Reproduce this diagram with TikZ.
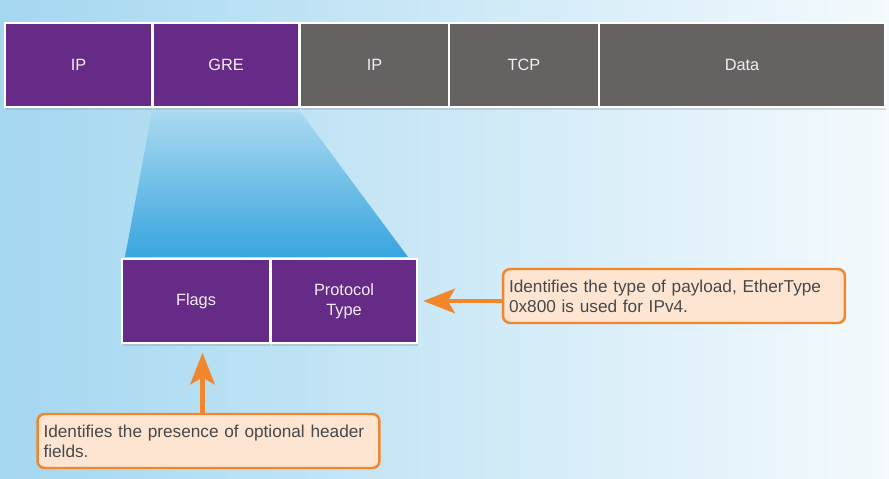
\documentclass[tikz,border=0pt]{standalone}
\usepackage{fontspec}
\setmainfont{Liberation Sans}
\usepackage{tikz}
\usetikzlibrary{arrows.meta,shadows}
\definecolor{grepurple}{RGB}{101,43,134}
\definecolor{hdrgray}{RGB}{102,98,98}
\definecolor{bgleft}{RGB}{164,215,240}
\definecolor{bgmid}{RGB}{212,236,248}
\definecolor{bgright}{RGB}{244,250,253}
\definecolor{funneltop}{RGB}{170,217,240}
\definecolor{funnelbot}{RGB}{56,165,222}
\definecolor{calloutfill}{RGB}{253,229,210}
\definecolor{calloutline}{RGB}{241,134,45}
\definecolor{calltext}{RGB}{72,72,72}

\tikzset{
  hdr/.style={rectangle, draw=white, line width=1.2pt, minimum height=1.68cm,
    text=white!92!grepurple, font=\fontsize{9.3}{11.4}\selectfont,
    drop shadow={opacity=0.25, shadow xshift=0.6pt, shadow yshift=-1.5pt}},
  callout/.style={rectangle, rounded corners=4pt, draw=calloutline, line width=1.4pt,
    fill=calloutfill, text=calltext, align=left, text width=6.6cm, inner xsep=0.12cm,
    minimum height=1.08cm, font=\fontsize{9.8}{11.4}\selectfont},
  callarrow/.style={draw=calloutline, line width=2.3pt,
    -{Stealth[length=18pt, width=14pt, inset=4pt]}}
}

\begin{document}
\begin{tikzpicture}[x=0.02cm, y=-0.02cm]
\useasboundingbox (0,0) rectangle (889,479);
\shade[left color=bgleft, middle color=bgmid, right color=bgright] (0,0) rectangle (889,479);

% header of the tunnelled packet
\foreach \name/\x/\w/\col/\lbl in {ip1/78.5/2.94/grepurple/IP, gre/226/2.92/grepurple/GRE,
    ip2/374.5/2.98/hdrgray/IP, tcp/524/3.0/hdrgray/TCP, data/742/5.72/hdrgray/Data}
    \node[hdr, fill=\col, minimum width=\w cm] (\name) at (\x,65) {\lbl};

% zoom into the GRE header
\shade[top color=funneltop, bottom color=funnelbot]
    ([yshift=-2pt]gre.south west) -- ([yshift=-2pt]gre.south east) -- (408,257) -- (125,257) -- cycle;

\node[hdr, fill=grepurple, minimum width=2.96cm] (flags) at (196,301) {Flags};
\node[hdr, fill=grepurple, minimum width=2.92cm, align=center] (proto) at (344,301) {Protocol\\Type};

% callouts
\node[callout] (rcall) at (674,296) {Identifies the type of payload, EtherType\\0x800 is used for IPv4.};
\node[callout] (bcall) at (208.5,441) {Identifies the presence of optional header\\fields.};

\draw[callarrow, shorten >=3pt] (rcall.west |- proto) -- (proto.east);
\draw[callarrow, shorten >=5pt] ([xshift=-0.12cm]bcall.north) -- ([xshift=-0.12cm]bcall.north |- flags.south);
\end{tikzpicture}
\end{document}
